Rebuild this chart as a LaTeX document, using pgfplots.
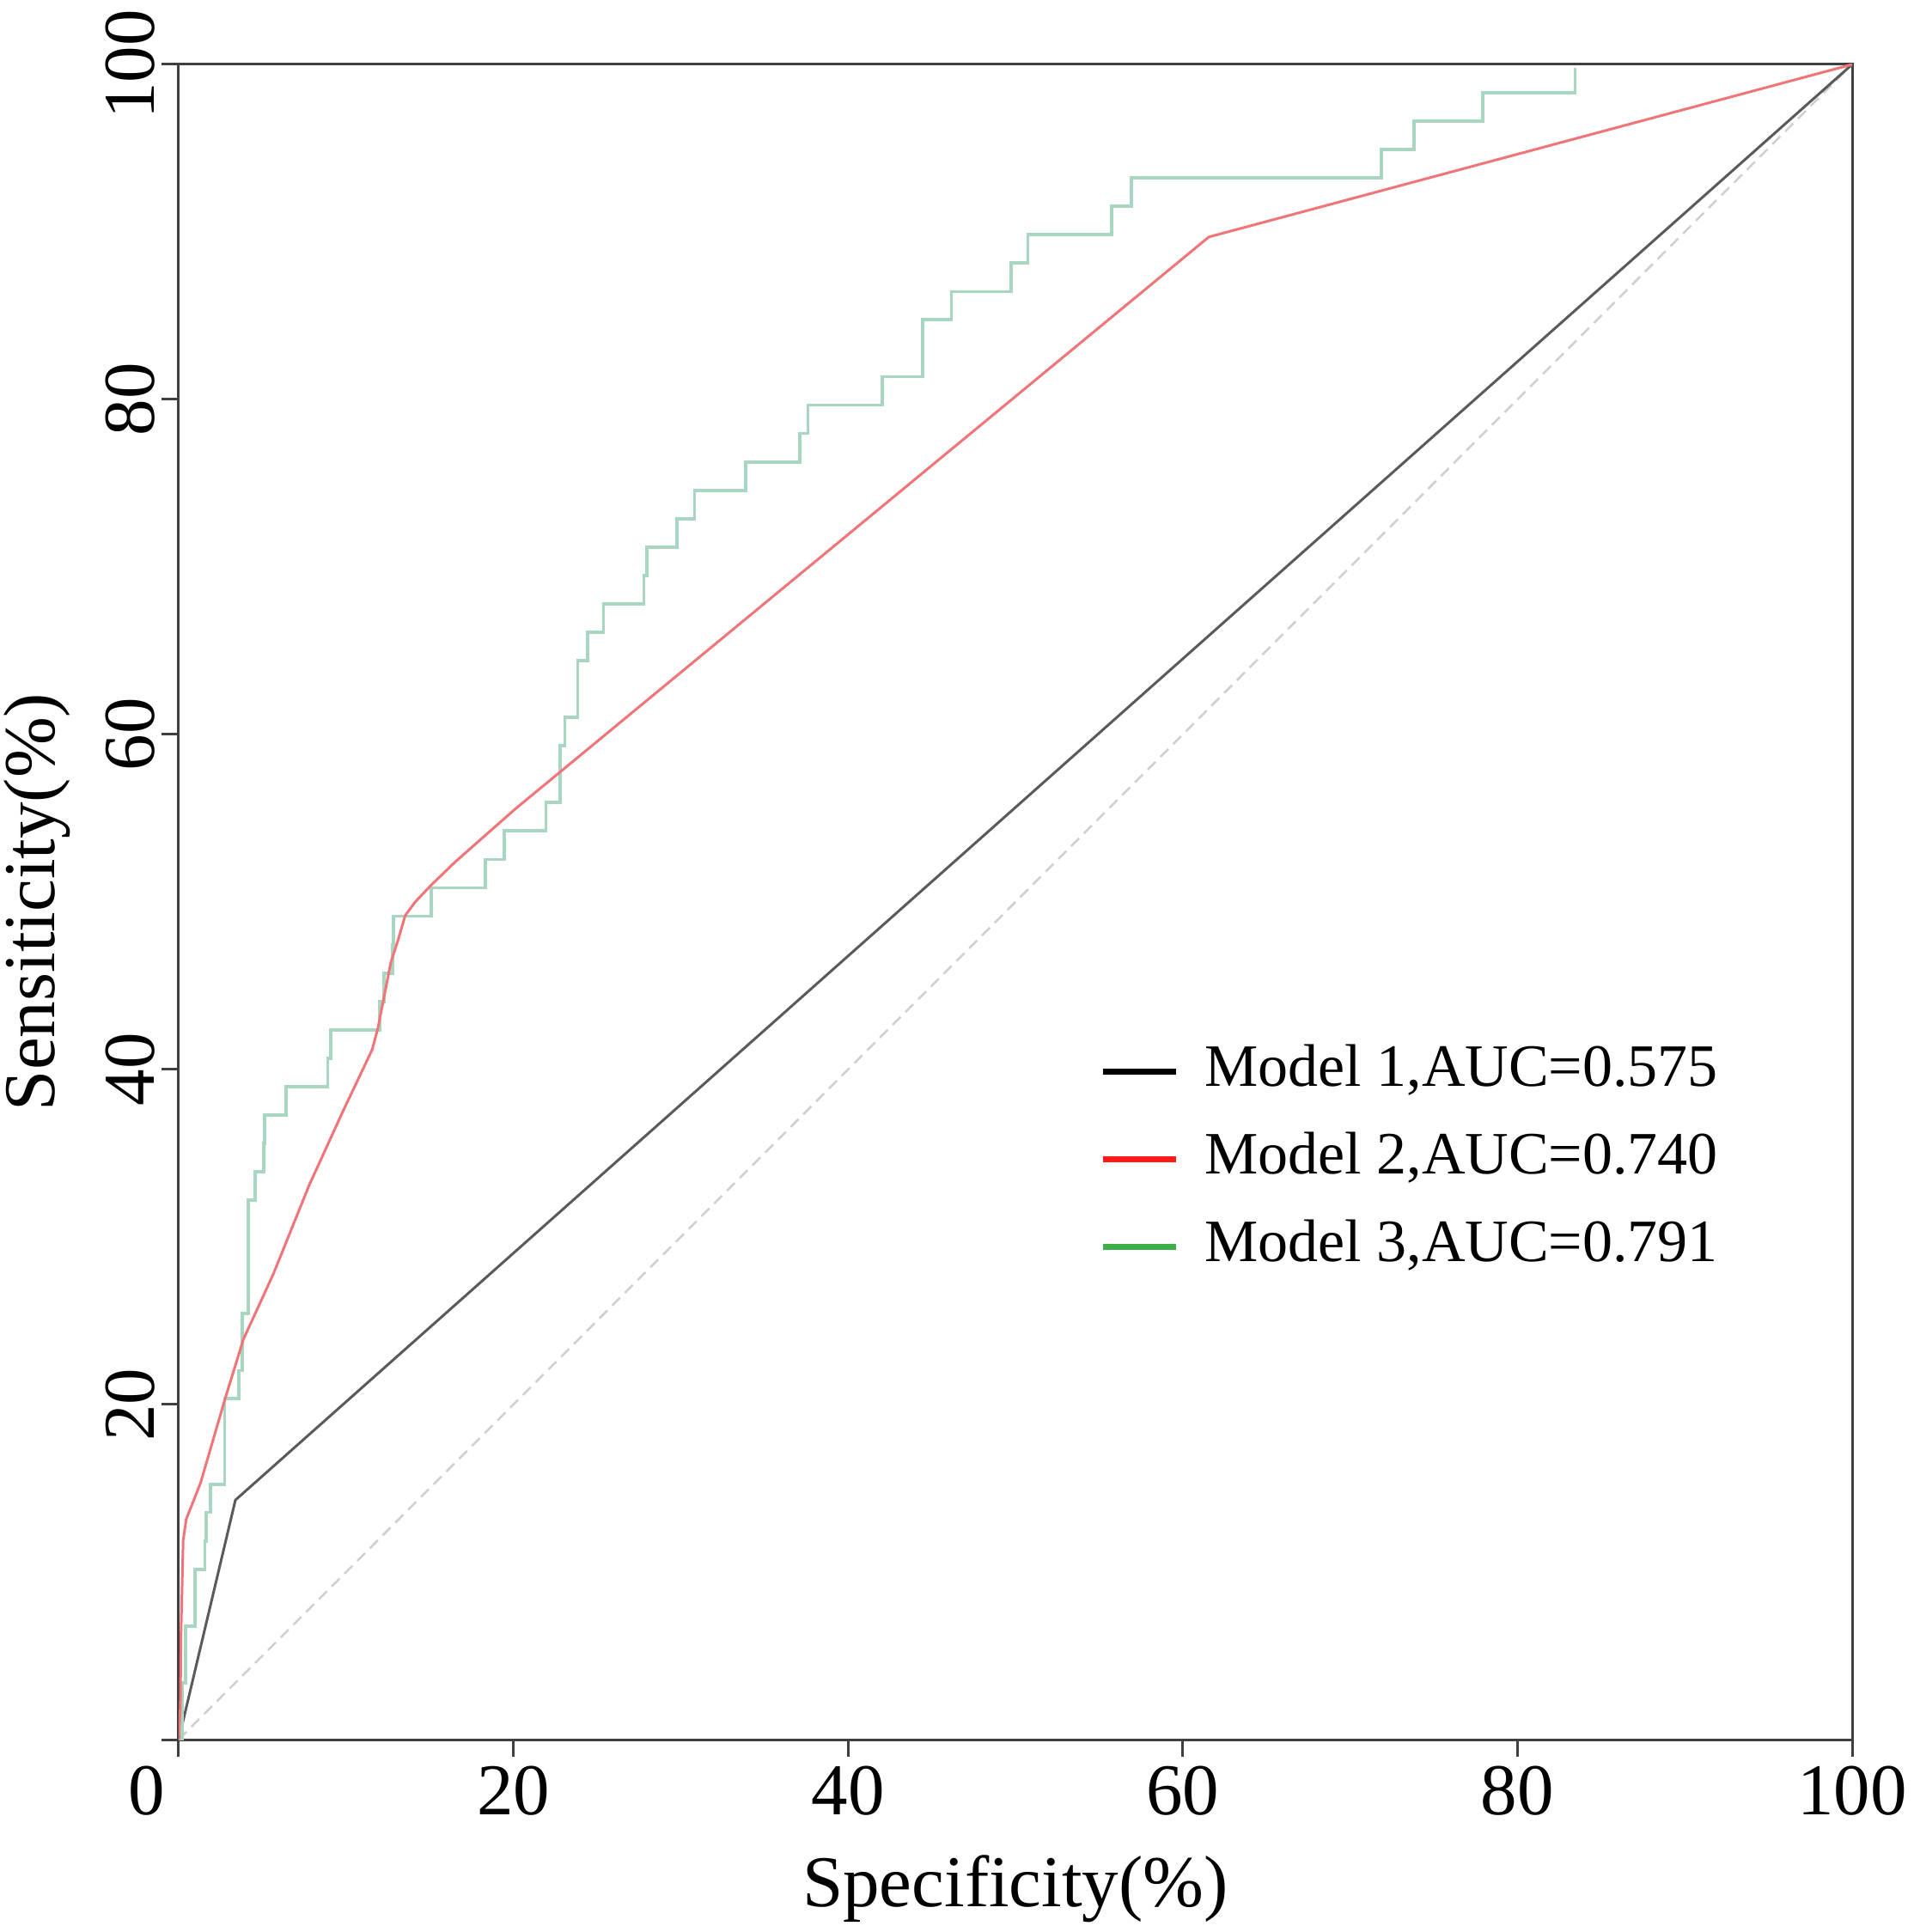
\documentclass[border=0pt]{standalone}
\usepackage{pgfplots}
\pgfplotsset{compat=1.18}
\usepackage{fontspec}
\setmainfont{Liberation Serif}
\definecolor{axgray}{HTML}{404040}
\definecolor{m1}{HTML}{5A5A5A}
\definecolor{m2}{HTML}{F07478}
\definecolor{m3}{HTML}{A8D6C0}
\definecolor{diag}{HTML}{CFCFCF}
\definecolor{leg2}{HTML}{FF1A1A}
\definecolor{leg3}{HTML}{3DAE4A}

\pgfplotstableread{
x y
0 0
0.19 3.39
0.41 6.78
0.96 10.17
1.56 11.86
1.64 13.56
1.90 15.25
2.75 20.34
3.61 22.03
3.78 25.42
4.17 32.20
4.55 33.90
5.07 35.59
5.15 37.29
6.43 38.98
8.91 40.68
9.09 42.37
12.00 44.07
12.25 45.76
12.77 47.46
12.85 49.15
15.08 50.85
18.33 52.54
19.44 54.24
21.95 55.93
22.80 59.32
23.07 61.02
23.85 64.41
24.44 66.10
25.39 67.80
27.80 69.49
27.98 71.19
29.78 72.88
30.83 74.58
33.87 76.27
37.10 77.97
37.60 79.66
42.03 81.36
44.45 84.75
46.17 86.44
49.76 88.14
50.74 89.83
55.75 91.53
56.93 93.22
71.87 94.92
73.82 96.61
77.92 98.31
83.45 99.8
}\modelthree

\pgfplotstableread{
x y
0 0
0.10 2.0
0.14 6.4
0.27 11.9
0.45 13.15
1.30 15.3
2.76 20.3
3.87 23.9
4.72 25.75
5.66 27.8
7.80 33.1
9.86 37.6
11.57 41.2
11.91 42.5
12.68 46.4
13.10 47.7
13.54 49.2
14.13 50.0
15.08 51.0
16.53 52.4
20.12 55.56
61.56 89.7
100 100
}\modeltwo

\pgfplotstableread{
x y
0 0
3.39 14.3
100 100
}\modelone

\begin{document}
\begin{tikzpicture}
\begin{axis}[
  scale only axis, width=389.6pt, height=390pt,
  xmin=0, xmax=100, ymin=0, ymax=100,
  axis line style={draw=axgray, line width=0.6pt},
  every tick/.style={draw=axgray, line width=0.6pt},
  tick align=outside, major tick length=4pt,
  xtick pos=lower, ytick pos=lower,
  xtick={0,20,40,60,80,100}, xticklabels={,20,40,60,80,100},
  ytick={0,20,40,60,80,100}, yticklabels={,20,40,60,80,100},
  ticklabel style={font=\fontsize{17}{20}\selectfont},
  xticklabel style={inner sep=2pt},
  yticklabel style={rotate=90, anchor=south, inner sep=1.4pt},
  xlabel={Specificity(\%)}, ylabel={Sensiticity(\%)},
  label style={font=\fontsize{17}{20}\selectfont},
  xlabel style={at={([yshift=-38.8pt]rel axis cs:0.5,0)}, anchor=base},
  ylabel style={at={([xshift=-29pt]rel axis cs:0,0.5)}, anchor=base},
  legend style={at={(axis cs:55,41.6)}, anchor=north west, draw=none, fill=none,
    inner sep=0pt, font=\fontsize{14}{16}\selectfont, row sep=7.4pt, column sep=6pt,
    nodes={inner sep=0pt, text height=10pt, text depth=3pt}},
  legend cell align=left,
  legend image code/.code={\draw[#1] (0pt,0pt) -- (17pt,0pt);},
]
\addplot[diag, line width=0.5pt, dash pattern=on 2.6pt off 1.6pt, forget plot] coordinates {(0,0) (100,100)};
\addplot[m1, line width=0.6pt, forget plot] table[x=x,y=y] {\modelone};
\addplot[m3, line width=0.75pt, const plot, forget plot] table[x=x,y=y] {\modelthree};
\addplot[m2, line width=0.6pt, forget plot] table[x=x,y=y] {\modeltwo};
\addlegendimage{black, line width=1.4pt}
\addlegendentry{Model 1,AUC=0.575}
\addlegendimage{leg2, line width=1.4pt}
\addlegendentry{Model 2,AUC=0.740}
\addlegendimage{leg3, line width=1.4pt}
\addlegendentry{Model 3,AUC=0.791}
\coordinate (bl) at (rel axis cs:0,0);
\coordinate (tr) at (rel axis cs:1,1);
\end{axis}
\node[font=\fontsize{17}{20}\selectfont, anchor=north, inner sep=2pt] at ([xshift=-7.5pt,yshift=-4pt]bl) {0};
\pgfresetboundingbox
\path ([shift={(-41.6pt,-44.8pt)}]bl) rectangle ([shift={(14.4pt,15pt)}]tr);
\end{tikzpicture}
\end{document}
